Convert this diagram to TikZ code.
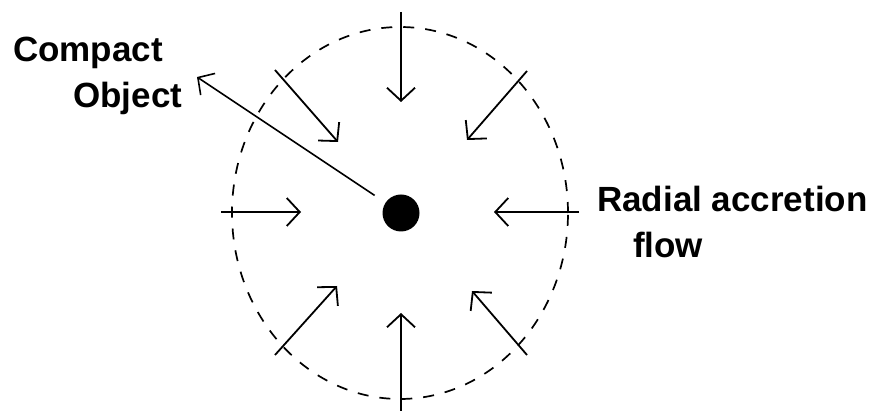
\documentclass[tikz,border=0pt]{standalone}
\usepackage{fontspec}
\setmainfont{Liberation Sans}
\usetikzlibrary{arrows.meta,positioning}

\begin{document}
\begin{tikzpicture}[
            x=1pt, y=-1pt,
            flujo/.style={line width=1.8pt, -{Straight Barb[length=13pt, width=28pt]}},
            puntero/.style={line width=1.6pt, -{Straight Barb[length=12pt, width=26pt]}},
            borde/.style={line width=1.7pt, dash pattern=on 11pt off 11pt},
            etiqueta/.style={anchor=base west, inner sep=0pt, font=\fontsize{35}{42}\selectfont\bfseries}
        ]
\useasboundingbox (0,0) rectangle (873,411);

\node[circle, fill, minimum size=37pt, inner sep=0pt] (objeto) at (401,213) {};
\draw[borde] (400,213) ellipse [x radius=168pt, y radius=186pt];

\node[etiqueta] (compact) at (13,62) {Compact};
\node[etiqueta] (object) at (73,108) {Object};
\node[etiqueta] (radial) at (597,212) {Radial accretion};
\node[etiqueta] (flow) at (633,258) {flow};

\coordinate (ptr) at (197,77);
\coordinate (n0) at (401,12);   \coordinate (n1) at (401,102);
\coordinate (ne0) at (527,71);  \coordinate (ne1) at (467,140);
\coordinate (e0) at (579,212);  \coordinate (e1) at (494,212);
\coordinate (se0) at (527,355); \coordinate (se1) at (472,291);
\coordinate (s0) at (401,411);  \coordinate (s1) at (401,313);
\coordinate (sw0) at (275,355); \coordinate (sw1) at (337,286);
\coordinate (w0) at (221,212);  \coordinate (w1) at (301,212);
\coordinate (nw0) at (275,70);  \coordinate (nw1) at (338,142);

\draw[flujo] (n0) -- (n1);
\draw[flujo] (ne0) -- (ne1);
\draw[flujo] (e0) -- (e1);
\draw[flujo] (se0) -- (se1);
\draw[flujo] (s0) -- (s1);
\draw[flujo] (sw0) -- (sw1);
\draw[flujo] (w0) -- (w1);
\draw[flujo] (nw0) -- (nw1);

\draw[puntero, shorten <=13pt] (objeto) -- (ptr);
        \end{tikzpicture}
\end{document}
